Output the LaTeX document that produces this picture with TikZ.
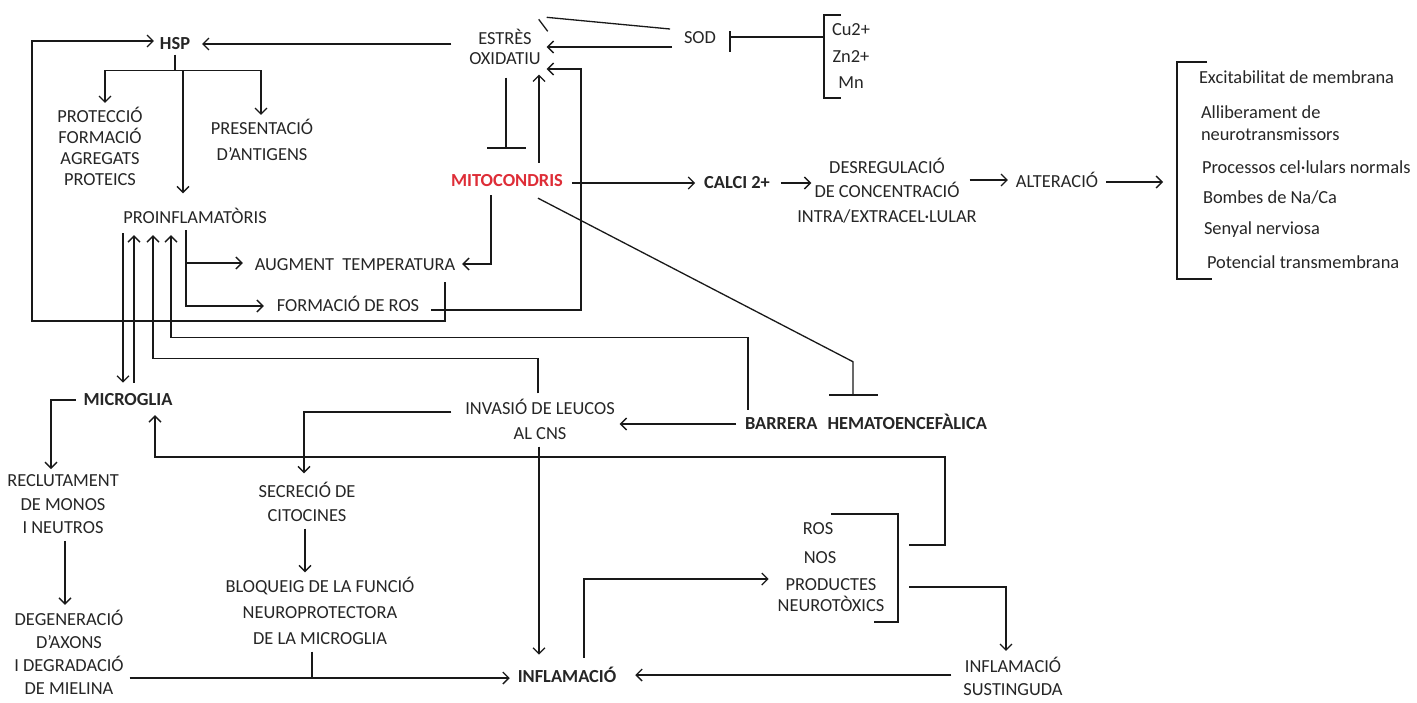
\documentclass[tikz,border=0pt]{standalone}
\usepackage{fontspec}
\setmainfont{Carlito}
\usetikzlibrary{arrows.meta}
\newcommand\lstrut{\rule[-0.26em]{0pt}{1.16em}}
\lineskiplimit=-100pt
\lineskip=0pt
\definecolor{txtcol}{RGB}{38,38,38}
\definecolor{lncol}{RGB}{25,25,25}
\definecolor{mred}{RGB}{222,45,55}
\begin{document}
\begin{tikzpicture}[x=1pt,y=-1pt,
  every node/.style={inner sep=0pt, outer sep=0pt, text=txtcol, align=center,
     font=\fontsize{18.4}{22}\selectfont,
     execute at begin node=\lstrut, execute at end node=\lstrut},
  bl/.style={font=\fontsize{18.4}{22}\selectfont\bfseries},
  bs/.style={font=\fontsize{18.4}{#1}\selectfont},
  ln/.style={draw=lncol, line width=1.3pt},
  arr/.style={ln, -{Straight Barb[length=6pt,width=12pt]}},
  inh/.style={ln, -{Bar[width=#1]}}
]
\useasboundingbox[fill=white] (0,0) rectangle (1417,702);

% ---------------- nodes ----------------
\node[bl] (hsp) at (175,44) {HSP};
\node[bs=20] (estres) at (505,49) {ESTRÈS\\OXIDATIU};
\node (sod) at (700,38) {SOD};
\node[bs=26.5] (metals) at (851,58.5) {Cu2+\\Zn2+\\Mn};
\node[bs=21] (prot) at (100,148.5) {PROTECCIÓ\\FORMACIÓ\\AGREGATS\\PROTEICS};
\node[bs=26] (pres) at (262,142) {PRESENTACIÓ\\D'ANTIGENS};
\node (proinf) at (195,218) {PROINFLAMATÒRIS};
\node[bl, text=mred] (mito) at (507,181) {MITOCONDRIS};
\node[bl] (calci) at (737,183) {CALCI 2+};
\node[bs=24.5] (desreg) at (887,192.5) {DESREGULACIÓ\\DE CONCENTRACIÓ\\INTRA/EXTRACEL·LULAR};
\node (alter) at (1057,182) {ALTERACIÓ};
\node[bs=22, anchor=west, align=left] (efx) at (1199,171.5)
  {Excitabilitat de membrana\\[13pt]
   \hspace*{2pt}Alliberament de\\
   \hspace*{2pt}neurotransmissors\\[11pt]
   \hspace*{3pt}Processos cel·lulars normals\\[8pt]
   \hspace*{4pt}Bombes de Na/Ca\\[9pt]
   \hspace*{5pt}Senyal nerviosa\\[12pt]
   \hspace*{8pt}Potencial transmembrana};
\node (aug) at (355,265) {AUGMENT~~TEMPERATURA};
\node (fros) at (348,306) {FORMACIÓ DE ROS};
\node[bl] (micro) at (128,400) {MICROGLIA};
\node[bs=25] (invas) at (540,421.5) {INVASIÓ DE LEUCOS\\AL CNS};
\node[bl] (barrera) at (866,424) {BARRERA\hspace{10pt}HEMATOENCEFÀLICA};
\node[bs=23.5] (recl) at (63,506.5) {RECLUTAMENT\\DE MONOS\\I NEUTROS};
\node[bs=23] (degen) at (69,655) {DEGENERACIÓ\\D'AXONS\\I DEGRADACIÓ\\DE MIELINA};
\node[bs=24] (secr) at (307,504) {SECRECIÓ DE\\CITOCINES};
\node[bs=26] (bloq) at (320,613) {BLOQUEIG DE LA FUNCIÓ\\NEUROPROTECTORA\\DE LA MICROGLIA};
\node (ros) at (818,529) {ROS};
\node (nos) at (820,558) {NOS};
\node[bs=21] (prod) at (831,597.5) {PRODUCTES\\NEUROTÒXICS};
\node[bs=23] (inflsust) at (1013,678.5) {INFLAMACIÓ\\SUSTINGUDA};
\node[bl] (infl) at (567,677) {INFLAMACIÓ};

\coordinate (metbr) at (824,37);
\coordinate (rosbr1) at (909,545);
\coordinate (rosbr2) at (909,587);

% ---------------- brackets ----------------
\draw[ln] (841,15) -| (824,98) -- (841,98);
\draw[ln] (1207,62) -| (1177,279) -- (1212,279);
\draw[ln] (831,514) -| (898,622) -- (874,622);

% ---------------- connectors ----------------
% AUGMENT TEMPERATURA -> HSP
\draw[arr] ([shift={(90,6.5)}]aug.south) |- (32,321) |- ([shift={(-6,-3)}]hsp.west);
% ESTRES -> HSP
\draw[arr] ([shift={(-18,-5)}]estres.west) -- ([xshift=12pt]hsp.east);
% HSP -> branches
\draw[arr] (hsp.south) -- ++(0,15.5) -| ([shift={(5,-4)}]prot.north);
\draw[arr] ([shift={(0,15.5)}]hsp.south) -| ([shift={(-1,-4)}]pres.north);
\draw[arr] ([shift={(8,15.5)}]hsp.south) -- ([shift={(-12,-14)}]proinf.north);
% SOD -> ESTRES
\draw[arr] ([shift={(-12,9)}]sod.west) -- ([shift={(6,-2)}]estres.east);
% SOD -| ESTRES
\draw[ln] ([shift={(-14,-9)}]sod.west) -- ([shift={(6,-11.6)}]estres.north east);
\draw[ln] ([shift={(-2,-9.6)}]estres.north east) -- ++(9,12);
% metals -| SOD
\draw[ln] (metbr) -- ([shift={(14,-1)}]sod.east);
\draw[ln] ([shift={(14,-7)}]sod.east) -- ++(0,21);
% ESTRES -| MITOCONDRIS
\draw[inh=39pt] ([shift={(1,8.5)}]estres.south) -- ([shift={(-1,-21.6)}]mito.north);
% MITOCONDRIS -> ESTRES
\draw[arr] ([shift={(32,-7.6)}]mito.north) -- ([shift={(34,5.5)}]estres.south);
% FORMACIO DE ROS -> ESTRES
\draw[arr] ([shift={(12,4)}]fros.east) -| (581,69) -- ([shift={(6,20)}]estres.east);
% MITOCONDRIS -> AUGMENT
\draw[arr] ([shift={(-16,3.5)}]mito.south) |- ([shift={(7,-1)}]aug.east);
% MITOCONDRIS -> CALCI -> DESREG -> ALTERACIO -> list
\draw[arr] ([shift={(9,2)}]mito.east) -- ([xshift=-9pt]calci.west);
\draw[arr] ([xshift=11pt]calci.east) -- ([shift={(14,-9.5)}]desreg.west);
\draw[arr] ([shift={(-7,-12.5)}]desreg.east) -- ([shift={(-8,-2)}]alter.west);
\draw[arr] ([xshift=8pt]alter.east) -- ([shift={(-36,10.5)}]efx.west);
% PROINFLAMATORIS <-> MICROGLIA
\draw[arr] ([shift={(-72,4.5)}]proinf.south) -- ([shift={(-5,-6.6)}]micro.north);
\draw[arr] ([shift={(6,-6.6)}]micro.north) -- ([shift={(-61,6.5)}]proinf.south);
% INVASIO -> PROINFLAMATORIS
\draw[arr] ([shift={(-2,-5.6)}]invas.north) -- ++(0,-35) -| ([shift={(-42,6.5)}]proinf.south);
% BARRERA -> PROINFLAMATORIS
\draw[arr] ([shift={(-118,-3.6)}]barrera.north) -- ++(0,-72) -| ([shift={(-24,6.5)}]proinf.south);
% PROINFLAMATORIS -> AUGMENT / FORMACIO DE ROS
\draw[arr] ([shift={(-9,1.5)}]proinf.south) |- ([shift={(-12,-2)}]aug.west);
\draw[arr] ([shift={(-9,1.5)}]proinf.south) |- ([xshift=-13pt]fros.west);
% BARRERA -> INVASIO
\draw[arr] ([xshift=-9pt]barrera.west) -- ([shift={(5,2.5)}]invas.east);
% INVASIO -> SECRECIO
\draw[arr] ([shift={(-14,-9.5)}]invas.west) -| ([shift={(-3,-8.6)}]secr.north);
% INVASIO -> INFLAMACIO
\draw[arr] ([shift={(-1,2.5)}]invas.south) -- ([shift={(-28,-11.6)}]infl.north);
% ROS group -> MICROGLIA
\draw[arr] (rosbr1) -| (945,457) -| ([shift={(27,4.5)}]micro.south);
% ROS group -> INFLAMACIO SUSTINGUDA
\draw[arr] (rosbr2) -| ([shift={(-7,-6)}]inflsust.north);
% INFLAMACIO SUSTINGUDA -> INFLAMACIO
\draw[arr] ([shift={(-12,-3.5)}]inflsust.west) -- ([shift={(19,-2)}]infl.east);
% INFLAMACIO -> ROS group
\draw[arr] ([shift={(17,-8.6)}]infl.north) |- ([shift={(-9,0.4)}]prod.north west);
% DEGENERACIO -> INFLAMACIO, BLOQUEIG joins
\draw[arr] ([shift={(6,23)}]degen.east) -- ([shift={(-8,1)}]infl.west);
\draw[ln] ([shift={(-8,2.5)}]bloq.south) -- ++(0,26);
% MICROGLIA -> RECLUTAMENT -> DEGENERACIO
\draw[arr] ([xshift=-8pt]micro.west) -| ([shift={(-12,-5.6)}]recl.north);
\draw[arr] ([shift={(2,2.5)}]recl.south) -- ([shift={(-4,-5.6)}]degen.north);
% SECRECIO -> BLOQUEIG
\draw[arr] ([shift={(-2,2.5)}]secr.south) -- ([shift={(-15,-4.6)}]bloq.north);
% MITOCONDRIS -| BARRERA
\draw[inh=49pt] ([shift={(31,6.5)}]mito.south) -- ([shift={(-13,-51.6)}]barrera.north) -- ([shift={(-13,-17.6)}]barrera.north);
\end{tikzpicture}
\end{document}
